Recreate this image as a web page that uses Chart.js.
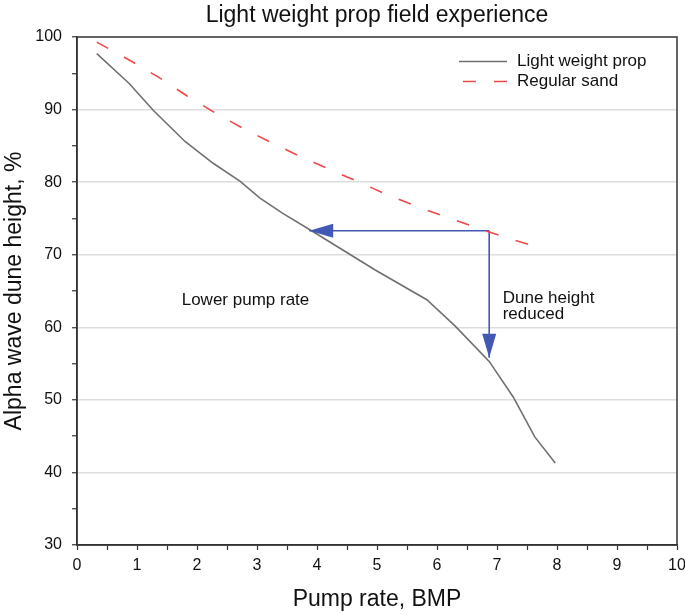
<!DOCTYPE html>
<html>
<head>
<meta charset="utf-8">
<script src="https://cdn.jsdelivr.net/npm/chart.js@4.4.1/dist/chart.umd.min.js"></script>
<style>
  html, body { margin: 0; padding: 0; background: #fff; }
</style>
</head>
<body>
<canvas id="chart" width="685" height="615"></canvas>
<script>
// values
const lightX = [0.33, 0.87, 1.27, 1.8, 2.27, 2.72, 3.05, 3.43, 3.93, 4.97, 5.83, 6.3, 6.87, 7.27, 7.63, 7.97];
const lightY = [97.7, 93.6, 89.9, 85.6, 82.6, 80.1, 77.8, 75.7, 73.2, 67.9, 63.8, 60.2, 55.3, 50.4, 44.9, 41.3];

const sandX = [0.33, 0.9, 1.37, 1.83, 2.29, 2.77, 3.25, 3.73, 4.2, 4.7, 5.19, 5.68, 6.18, 6.67, 7.17, 7.77];
const sandY = [99.3, 96.7, 94.4, 91.9, 89.6, 87.4, 85.4, 83.5, 81.8, 80.0, 78.2, 76.6, 75.1, 73.7, 72.3, 70.8];

const arrowLeftX = [6.87, 3.87];
const arrowLeftY = [73.3, 73.3];
const arrowDownX = [6.87, 6.87];
const arrowDownY = [73.3, 55.8];

const seriesNames = ['Light weight prop', 'Regular sand'];
const noteLower = 'Lower pump rate';
const noteDune = ['Dune height', 'reduced'];

const FONT = "'Liberation Sans', Arial, sans-serif";
const INK = '#111';
const ARROW = '#4358b5';

const toPoints = (xs, ys) => xs.map((x, i) => ({ x, y: ys[i] }));

// frame, arrow heads, notes and the in-plot legend
const extras = {
  id: 'extras',
  afterDatasetsDraw(chart) {
    const { ctx, chartArea: a, scales: { x, y } } = chart;
    ctx.save();

    // box around the plot
    ctx.strokeStyle = '#333';
    ctx.lineWidth = 1.5;
    ctx.strokeRect(a.left, a.top, a.right - a.left, a.bottom - a.top);

    // arrow heads on the two arrow datasets
    [2, 3].forEach(i => {
      const pts = chart.getDatasetMeta(i).data;
      const p0 = pts[pts.length - 2], p1 = pts[pts.length - 1];
      const ang = Math.atan2(p1.y - p0.y, p1.x - p0.x);
      const len = 24, half = 7;
      ctx.save();
      ctx.translate(p1.x, p1.y);
      ctx.rotate(ang);
      ctx.beginPath();
      ctx.moveTo(0, 0);
      ctx.lineTo(-len, -half);
      ctx.lineTo(-len, half);
      ctx.closePath();
      ctx.fillStyle = ARROW;
      ctx.fill();
      ctx.restore();
    });

    // notes
    ctx.fillStyle = INK;
    ctx.font = '17px ' + FONT;
    ctx.textAlign = 'left';
    ctx.textBaseline = 'alphabetic';
    ctx.fillText(noteLower, x.getPixelForValue(1.745), y.getPixelForValue(63.07));
    ctx.fillText(noteDune[0], x.getPixelForValue(7.095), y.getPixelForValue(63.39));
    ctx.fillText(noteDune[1], x.getPixelForValue(7.095), y.getPixelForValue(61.1));

    // legend
    const lx0 = 459, lx1 = 507, rows = [61.5, 81.5];
    [0, 1].forEach(i => {
      const ds = chart.data.datasets[i];
      ctx.beginPath();
      ctx.strokeStyle = ds.borderColor;
      ctx.lineWidth = ds.borderWidth;
      ctx.setLineDash(ds.borderDash || []);
      ctx.lineDashOffset = ds.borderDash ? -4 : 0;
      ctx.moveTo(lx0, rows[i]);
      ctx.lineTo(lx1, rows[i]);
      ctx.stroke();
      ctx.setLineDash([]);
      ctx.textBaseline = 'middle';
      ctx.fillStyle = INK;
      ctx.fillText(ds.label, 517, rows[i]);
    });

    ctx.restore();
  }
};

Chart.defaults.font.family = FONT;
Chart.defaults.color = INK;

new Chart(document.getElementById('chart'), {
  type: 'line',
  data: {
    datasets: [
      {
        label: seriesNames[0],
        data: toPoints(lightX, lightY),
        borderColor: '#707070',
        borderWidth: 1.6,
        pointRadius: 0,
        tension: 0
      },
      {
        label: seriesNames[1],
        data: toPoints(sandX, sandY),
        borderColor: '#f04848',
        borderWidth: 1.6,
        borderDash: [13, 18],
        pointRadius: 0,
        tension: 0
      },
      {
        label: 'arrow-left',
        data: toPoints(arrowLeftX, arrowLeftY),
        borderColor: ARROW,
        borderWidth: 1.6,
        pointRadius: 0
      },
      {
        label: 'arrow-down',
        data: toPoints(arrowDownX, arrowDownY),
        borderColor: ARROW,
        borderWidth: 1.6,
        pointRadius: 0
      }
    ]
  },
  options: {
    responsive: false,
    animation: false,
    layout: { padding: { top: 0, right: 8, left: 0, bottom: 0 } },
    plugins: {
      legend: { display: false },
      tooltip: { enabled: false },
      title: {
        display: true,
        fullSize: false,
        text: 'Light weight prop field experience',
        color: INK,
        font: { size: 23, weight: 'normal' },
        padding: { top: 2, bottom: 7.4 }
      }
    },
    scales: {
      x: {
        type: 'linear',
        min: 0,
        max: 10,
        afterFit: s => { s.height = 70; s.paddingLeft = 0; s.paddingRight = 0; },
        ticks: {
          stepSize: 0.5,
          autoSkip: false,
          maxRotation: 0,
          padding: 6,
          font: { size: 16 },
          callback: v => Number.isInteger(v) ? v : ''
        },
        grid: { drawOnChartArea: false, tickLength: 5, tickColor: '#333', tickWidth: 1.2 },
        border: { color: '#333', width: 1.5 },
        title: {
          display: true,
          text: 'Pump rate, BMP',
          font: { size: 23 },
          padding: { top: 0, bottom: 2 }
        }
      },
      y: {
        min: 30,
        max: 100,
        afterFit: s => { s.width = 77; s.paddingTop = 0; s.paddingBottom = 0; },
        ticks: {
          stepSize: 5,
          autoSkip: false,
          padding: 10,
          font: { size: 16 },
          callback: v => v % 10 === 0 ? v : ''
        },
        grid: {
          tickLength: 5,
          tickColor: '#333',
          tickWidth: 1.2,
          lineWidth: 1.5,
          color: c => {
            const v = c.tick ? c.tick.value : 0;
            return (v % 10 === 0 && v > 30 && v < 100) ? '#dedede' : 'rgba(0,0,0,0)';
          }
        },
        border: { color: '#333', width: 1.5 },
        title: {
          display: true,
          text: 'Alpha wave dune height, %',
          font: { size: 23 },
          padding: { top: 1, bottom: 0 }
        }
      }
    }
  },
  plugins: [extras]
});
</script>
</body>
</html>
